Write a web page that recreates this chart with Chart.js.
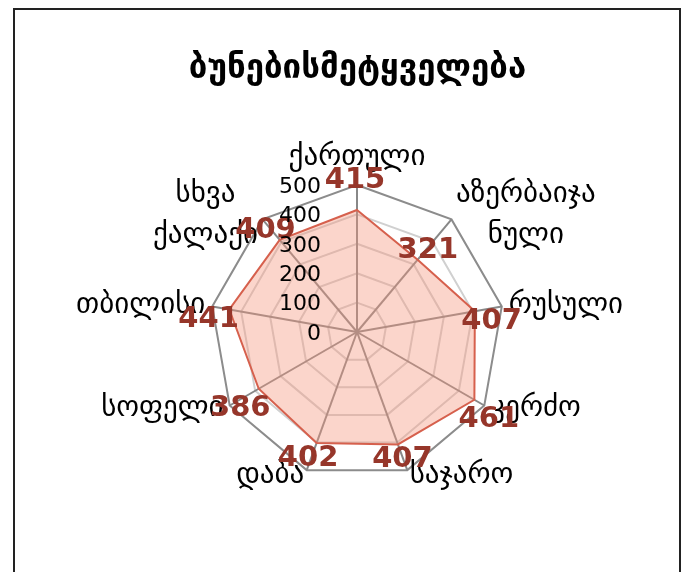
<!DOCTYPE html>
<html>
<head>
<meta charset="utf-8">
<script src="https://cdn.jsdelivr.net/npm/chart.js@4"></script>
<style>
  html, body { margin: 0; padding: 0; background: #fff; overflow: hidden; }
  #frame { position: absolute; left: 13px; top: 8px; width: 668px; height: 600px; border: 2px solid #222; box-sizing: border-box; }
  #wrap { position: absolute; left: -45px; top: 10px; width: 800px; height: 560px; }
</style>
</head>
<body>
<div id="frame"></div>
<div id="wrap"><canvas id="radarChart"></canvas></div>
<script>
// ბუნებისმეტყველება - საშუალო ქულები
const categories = [
    'ქართული',
    ['აზერბაიჯა', 'ნული'],
    'რუსული',
    'კერძო',
    'საჯარო',
    'დაბა',
    'სოფელი',
    'თბილისი',
    ['სხვა', 'ქალაქი']
];
const scores = [415, 321, 407, 461, 407, 402, 386, 441, 409];
const tickValues = [0, 100, 200, 300, 400, 500];

const FONT = "'DejaVu Sans', sans-serif";

// კატეგორიების სახელები (Excel-ის მსგავსად, წვეროსთან ვერტიკალურად ცენტრში)
const categoryLabels = {
    id: 'categoryLabels',
    afterDatasetsDraw(chart) {
        const ctx = chart.ctx;
        const scale = chart.scales.r;
        ctx.save();
        ctx.font = '29px ' + FONT;
        ctx.fillStyle = '#000';
        ctx.textBaseline = 'middle';
        ctx.textAlign = 'center';
        chart.data.labels.forEach((lbl, i) => {
            const lines = Array.isArray(lbl) ? lbl : [lbl];
            const lineH = lines.length > 1 ? 41 : 35;
            const v = scale.getPointPosition(i, scale.drawingArea);
            const cos = (v.x - scale.xCenter) / scale.drawingArea;
            const sin = (v.y - scale.yCenter) / scale.drawingArea;
            const w = Math.max(...lines.map(t => ctx.measureText(t).width));
            const h = lines.length * lineH;
            let cx, cy;
            if (Math.abs(cos) < 0.05) {
                cx = v.x;
                cy = sin < 0 ? v.y - 10 - h / 2 : v.y + 10 + h / 2;
            } else {
                const side = cos > 0 ? 1 : -1;
                cx = v.x + side * (7 * Math.abs(cos) + w / 2);
                cy = v.y + 6 * sin;
            }
            lines.forEach((t, k) => {
                ctx.fillText(t, cx, cy - h / 2 + lineH * (k + 0.5));
            });
        });
        ctx.restore();
    }
};

// მნიშვნელობების წარწერები წერტილებთან
const valueLabels = {
    id: 'valueLabels',
    afterDatasetsDraw(chart) {
        const ctx = chart.ctx;
        const scale = chart.scales.r;
        const meta = chart.getDatasetMeta(0);
        ctx.save();
        ctx.font = 'bold 29px ' + FONT;
        ctx.fillStyle = '#96362a';
        ctx.textAlign = 'center';
        ctx.textBaseline = 'middle';
        meta.data.forEach((pt, i) => {
            const dx = pt.x - scale.xCenter;
            const dy = pt.y - scale.yCenter;
            const len = Math.sqrt(dx * dx + dy * dy) || 1;
            const ux = dx / len, uy = dy / len;
            // გვერდითი წარწერები ოდნავ ქვემოთ
            ctx.fillText(String(scores[i]), pt.x + ux * 19 - 2, pt.y + uy * 19 + 25 * Math.abs(ux) - 11);
        });
        ctx.restore();
    }
};

// ღერძის დანაყოფები ვერტიკალური ღერძის მარცხნივ
const tickLabels = {
    id: 'tickLabels',
    afterDraw(chart) {
        const ctx = chart.ctx;
        const scale = chart.scales.r;
        ctx.save();
        ctx.font = '22px ' + FONT;
        ctx.fillStyle = '#000';
        ctx.textAlign = 'right';
        ctx.textBaseline = 'middle';
        tickValues.forEach(v => {
            const y = scale.yCenter - scale.getDistanceFromCenterForValue(v);
            ctx.fillText(String(v), scale.xCenter - 36, y + 2);
        });
        ctx.restore();
    }
};

const ctx = document.getElementById('radarChart').getContext('2d');
new Chart(ctx, {
    type: 'radar',
    data: {
        labels: categories,
        datasets: [{
            data: scores,
            backgroundColor: 'rgba(246, 150, 125, 0.4)',
            borderColor: '#d6604d',
            borderWidth: 2,
            pointRadius: 0,
            fill: true
        }]
    },
    options: {
        responsive: true,
        maintainAspectRatio: false,
        animation: false,
        layout: { padding: { left: 5, bottom: 90 } },
        plugins: {
            legend: { display: false },
            tooltip: { enabled: false },
            title: {
                display: true,
                text: 'ბუნებისმეტყველება',
                color: '#000',
                font: { family: FONT, size: 33, weight: 'bold' },
                padding: { top: 40, bottom: 95 }
            }
        },
        scales: {
            r: {
                min: 0,
                max: 500,
                ticks: { stepSize: 100, display: false },
                grid: {
                    color: c => c.tick && c.tick.value === 500 ? '#8c8c8c' : '#d0d0d0',
                    lineWidth: 2
                },
                angleLines: { color: '#888888', lineWidth: 2 },
                pointLabels: { display: false }
            }
        }
    },
    plugins: [categoryLabels, valueLabels, tickLabels]
});
</script>
</body>
</html>
